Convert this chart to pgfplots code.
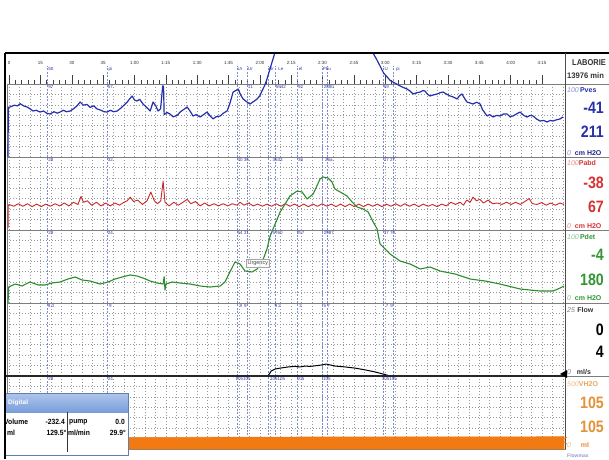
\documentclass[border=0pt]{standalone}
\usepackage{pgfplots}
\pgfplotsset{compat=1.18}
\usepackage{fontspec}
\setmainfont{Liberation Sans}
\usepackage{graphicx}

\definecolor{pves}{RGB}{38,48,170}
\definecolor{pabd}{RGB}{200,40,40}
\definecolor{pdet}{RGB}{45,140,45}
\definecolor{volc}{RGB}{242,122,18}
\definecolor{volt}{RGB}{228,145,55}
\definecolor{evt}{RGB}{125,140,205}
\definecolor{evtxt}{RGB}{50,60,170}
\definecolor{sep}{RGB}{125,125,125}
\definecolor{gridc}{RGB}{150,150,158}
\definecolor{lblred}{RGB}{215,50,50}
\definecolor{lblgreen}{RGB}{50,150,50}
\definecolor{hdrtop}{RGB}{175,198,235}
\definecolor{hdrbot}{RGB}{120,158,218}

\newcommand\tinyf{\fontsize{4.5}{5}\selectfont}
\newcommand\bignum[1]{\scalebox{0.86}[1]{\fontsize{16.5}{17}\selectfont\bfseries #1}}
\newcommand\smallf{\fontsize{7}{8}\selectfont}

\tikzset{evl/.style={font=\tinyf, text=evtxt, anchor=north, inner sep=0.5pt}}

\pgfplotsset{
  panel/.style={
    scale only axis, width=558pt, height=73pt, anchor=south west,
    xmin=-1, xmax=266,
    xtick={0,5,...,265},
    xticklabel=\empty, yticklabel=\empty,
    major tick length=0pt, minor tick length=0pt,
    grid=major,
    major grid style={gridc, dash pattern=on 0.8pt off 2.2pt, line width=0.65pt},
    axis line style={sep, line width=0.9pt},
    extra x ticks={18.2,46.9,109.1,113.9,123.9,127.3,137.8,149.8,152.2,178.9,183.7},
    extra x tick labels={},
    extra x tick style={grid=major, major tick length=0pt, major grid style={evt, dash pattern=on 2pt off 1.5pt, line width=0.6pt}},
    clip=false,
  },
}

\begin{document}
\begin{tikzpicture}[x=1pt,y=1pt]
\path[use as bounding box] (0,0) rectangle (609,459);
\clip (0,0) rectangle (609,459);
\fill[white] (0,0) rectangle (609,459);

% ---------------- time strip
\begin{axis}[scale only axis, width=558pt, height=18pt, at={(7pt,375pt)}, anchor=south west,
  xmin=-1, xmax=266, ymin=0, ymax=1,
  xtick={0,15,...,255},
  xticklabels={0,15,30,45,1:00,1:15,1:30,1:45,2:00,2:15,2:30,2:45,3:00,3:15,3:30,3:45,4:00,4:15},
  minor x tick num=4, ytick=\empty,
  xtick pos=lower, xticklabel pos=upper, tick align=inside,
  major tick length=9pt, minor tick length=4pt,
  tick style={black!75, line width=0.5pt},
  xticklabel style={font=\tinyf, text=black!80, inner sep=1pt},
  separate axis lines, axis line style={draw=none},
  extra x ticks={18.2,46.9,109.1,113.9,123.9,127.3,137.8,149.8,152.2,178.9,183.7},
  extra x tick labels={},
  extra x tick style={grid=major, major tick length=0pt, major grid style={evt, dash pattern=on 2pt off 1.5pt, line width=0.6pt}},
  clip=false]
\addplot[draw=none] coordinates {(0,0)};
\node[evl] at (axis cs:20,0.98) {Stt};
\node[evl] at (axis cs:48.5,0.98) {pi};
\node[evl] at (axis cs:110.5,0.98) {Ur};
\node[evl] at (axis cs:115.5,0.98) {Ur};
\node[evl] at (axis cs:125.5,0.98) {Ur};
\node[evl] at (axis cs:130,0.98) {Le};
\node[evl] at (axis cs:139.5,0.98) {el};
\node[evl] at (axis cs:152,0.98) {Pbu};
\node[evl] at (axis cs:180.5,0.98) {U};
\node[evl] at (axis cs:186,0.98) {pi};
\end{axis}

% ---------------- Pves
\begin{axis}[panel, at={(7pt,302pt)}, ymin=0, ymax=100,
  ytick={14.2857,28.5714,42.8571,57.1429,71.4286,85.7143}]
\addplot[pves, line width=1.2pt, line join=round] coordinates {
(-0.5,0) (-0.4,68) (0.5,68.5) (2.5,71) (4,70) (5.3,73) (7,70) (8.6,68.5) (10,66) (11.5,63)
(13,64) (14.8,61.6) (16.5,63) (18,60) (19.6,58.9) (21.5,62) (23,60) (24.4,61.6) (26,64)
(27.5,62) (29.2,63) (30.8,66) (32.5,70) (34,75.3) (35.5,71) (37.3,72) (38.8,68) (40.5,70)
(42.1,65.8) (44,64) (45.5,62) (46.9,61.6) (48.5,64) (50,62) (51.7,63) (53.5,67) (55,71)
(56.5,75.3) (57.8,80) (58.9,83.6) (60,78) (61.2,76.7) (62.5,79) (64.1,72.6) (65.8,68)
(67.5,63) (68.9,75.3) (70.2,70) (71.3,63) (72.5,66) (73.5,97.3) (73.9,97) (74.2,58)
(75.5,61) (77,58.9) (78.5,55) (80.4,57) (82,62) (83.5,65) (85.2,68.5) (86.8,62) (88,56.2)
(89.5,58) (91.4,54.8) (93,58) (94.7,61.6) (96,57) (97.6,52.1) (99,55) (101,56.2) (102.5,60)
(104.3,63) (105.5,72) (107.2,89) (108.5,91) (109.6,93.2) (110.8,85) (112,79.5) (113.5,76)
(115.3,72.6) (117,76) (118.7,79.5) (120,84) (121,90.4) (122.3,98) (123.4,106.8) (125.3,125)
(127.1,142)};
\addplot[pves, line width=1.2pt, line join=round] coordinates {
(174.2,142) (175.8,134) (177.5,124.7) (179.2,115) (180.9,109.6) (182.3,105) (183.7,102.7)
(185.4,100) (187.1,97.3) (188.8,95) (190.4,93.2) (192,90) (193.3,86.3) (195,88) (196.7,89)
(198,91) (199,90.4) (200.2,86) (201.4,83.6) (203,85) (204.8,86.3) (206.2,88) (207.7,89)
(209.4,86) (211,83.6) (212.7,82) (214.4,79.5) (215.5,84) (216.7,86.3) (218,80) (219.1,75.3)
(220.5,74) (222,72.6) (223.7,75) (225.4,72.6) (226.5,65) (228.7,56.2) (230,58) (231.6,54.8)
(233.2,57) (234.9,56.2) (236.6,59) (238.3,58.9) (239.7,55) (241.1,56.2) (242.8,59) (244.5,61.6)
(246.2,57) (247.8,54.8) (249.3,57) (250.7,56.2) (252.4,52) (254.1,49.3) (255.8,50) (257.4,48)
(258.9,50) (260.3,49.3) (262,51) (263.6,52.1) (265,54.8)};
\node[evl] at (axis cs:20,99) {97};
\node[evl] at (axis cs:48.5,99) {57};
\node[evl] at (axis cs:115.5,99) {71};
\node[evl] at (axis cs:130,99) {5942};
\node[evl] at (axis cs:139.5,99) {92};
\node[evl] at (axis cs:153,99) {2880};
\node[evl] at (axis cs:180.5,99) {59};
\end{axis}

% ---------------- Pabd
\begin{axis}[panel, at={(7pt,229pt)}, ymin=0, ymax=100,
  ytick={14.2857,28.5714,42.8571,57.1429,71.4286,85.7143}]
\addplot[pabd, line width=0.9pt, line join=round] coordinates {
(-0.5,3) (-0.4,33) (0.0,35) (2.2,32.5) (4.4,36) (6.6,32.5) (8.8,36) (11.0,32) (13.2,35.5)
(15.4,32) (17.6,35.5) (19.8,32.5) (22.0,36) (24.2,33) (26.4,37) (28.6,33) (30.8,38) (33.0,35)
(34.4,46) (35.6,38) (37.4,40) (39.6,34) (41.8,38) (44.0,33) (46.2,37) (48.4,33) (50.6,37)
(52.8,34) (55.0,38) (56.5,40) (58.0,45) (59.5,39) (61.6,41) (63.8,35) (66.0,40) (67.8,52)
(69.5,40) (71.0,36) (72.6,40) (73.7,67) (74.6,38) (76.6,33) (78.8,38) (81.0,34) (83.2,38)
(85.2,42) (87.0,36) (89.2,39) (91.4,33) (93.6,37) (95.8,33) (98.0,36) (100.2,33) (102.4,36)
(104.6,33) (106.8,36) (109.0,34) (110.5,38) (112.4,34) (114.6,37) (116.8,33) (119.0,35.5)
(121.2,32.5) (123.4,35.5) (125.6,32.5) (127.8,36) (130.0,32.5) (132.2,36) (134.4,32.5)
(136.6,35.5) (138.8,32) (141.0,35.5) (143.2,32) (145.4,35.5) (147.6,32.5) (149.8,36)
(152.0,32.5) (154.2,35.5) (156.4,32) (158.6,35.5) (160.8,32) (163.0,35.5) (165.2,32)
(167.4,35.5) (169.6,32) (171.8,35.5) (174.0,32.5) (176.2,35.5) (178.4,32) (180.6,35.5)
(182.8,32.5) (185.0,36) (187.2,32.5) (189.4,36) (191.6,32.5) (193.8,35.5) (196.0,32)
(198.2,35.5) (200.4,32.5) (202.6,35) (204.8,32) (207.0,35.5) (209.2,33) (211.4,38) (213.6,35)
(215.8,38) (217.4,34) (219.0,41) (220.6,38) (222.0,45) (223.6,40) (225.2,42) (227.0,37)
(229.2,41) (231.4,36) (233.6,37) (235.8,35) (238.0,38) (240.2,35) (242.4,38) (244.6,35)
(246.8,39) (248.8,43) (250.4,36) (252.6,35) (254.8,37.5) (257.0,34) (259.2,37) (261.4,34)
(263.6,37) (265.5,35)};
\node[evl] at (axis cs:20,99) {28};
\node[evl] at (axis cs:48.5,99) {32};
\node[evl] at (axis cs:112,99) {40 36};
\node[evl] at (axis cs:128.5,99) {3633};
\node[evl] at (axis cs:139.5,99) {36};
\node[evl] at (axis cs:153,99) {26a};
\node[evl] at (axis cs:182,99) {27 27};
\end{axis}

% ---------------- Pdet
\begin{axis}[panel, at={(7pt,156pt)}, ymin=0, ymax=100,
  ytick={14.2857,28.5714,42.8571,57.1429,71.4286,85.7143}]
\addplot[pdet, line width=1.1pt, line join=round] coordinates {
(-0.5,0) (-0.2,21.9) (2.9,26) (6.2,23.3) (10.0,28.8) (13.9,24.7) (17.2,24.7) (20.6,27.4)
(24.4,28.8) (28.2,32.9) (31.6,35.6) (34.9,31.5) (38.8,30.1) (43.5,26) (47.4,28.8) (50.7,32.9)
(54.1,35.6) (57.9,38.4) (61.2,37) (64.1,34.2) (67.5,30.1) (70.8,27.4) (73.7,26) (74.2,36)
(74.6,17.8) (75.1,26) (78,28.8) (81.8,27.4) (86.6,26) (91.4,23.3) (96.2,21.9) (101,23.3)
(103.3,28.8) (105.7,42.5) (108.1,56.2) (110.5,53.4) (112.9,43.8) (116.3,42.5) (118.7,46.6)
(121.1,56.2) (123.4,74) (124.9,91.8) (126.3,101.4) (129.7,124.7) (134.4,146.6) (137.8,153.4)
(140.2,152.1) (142.6,142.5) (145.5,149.3) (148.8,169.9) (150.2,172.6) (152.6,171.2)
(154.5,165.8) (155.9,156.2) (158.4,152.1) (161.7,146.6) (164.1,138.4) (166.5,131.5)
(169.4,128.8) (171.8,124.7) (174.2,111) (176.1,101.4) (177.5,80.8) (179.9,74) (182.3,67.1)
(187.1,57.5) (191.9,53.4) (196.7,46.6) (201.4,49.3) (206.2,43.8) (213.4,39.7) (220.6,32.9)
(227.8,30.1) (234.9,26) (244.5,19.2) (254.1,16.4) (260.3,16.4) (263.6,20.5) (265.5,23.3)};
\node[draw=gray!70, fill=white, fill opacity=0.85, text opacity=1, font=\fontsize{5.5}{6}\selectfont, text=black!70, inner sep=1.6pt]
  at (axis cs:119,54) {Urgency};
\node[evl] at (axis cs:20,99) {28};
\node[evl] at (axis cs:48.5,99) {24};
\node[evl] at (axis cs:112,99) {54 31};
\node[evl] at (axis cs:128.5,99) {5760};
\node[evl] at (axis cs:139.5,99) {257};
\node[evl] at (axis cs:153,99) {2987};
\node[evl] at (axis cs:182,99) {37 70};
\end{axis}

% ---------------- Flow
\begin{axis}[panel, at={(7pt,83pt)}, ymin=0, ymax=25,
  ytick={3.5714,7.1429,10.7143,14.2857,17.8571,21.4286}]
\addplot[black, line width=1pt, line join=round] coordinates {
(123.9,0) (125.4,1.7) (127.3,2.4) (129.7,2.7) (133.5,3.1) (136.8,3.3) (139.2,3.1) (141.6,3.4)
(144.0,3.3) (147.8,3.6) (149.8,3.8) (151.7,4.1) (153.6,3.8) (156.0,3.4) (160.8,3.1) (165.6,2.7)
(170.3,2.1) (175.1,1.4) (179.9,0.5) (182.3,0)};
\node[evl] at (axis cs:20,24.7) {9.0};
\node[evl] at (axis cs:48.5,24.7) {9};
\node[evl] at (axis cs:112,24.7) {9 \,9};
\node[evl] at (axis cs:128.5,24.7) {9 2};
\node[evl] at (axis cs:139.5,24.7) {2};
\node[evl] at (axis cs:152,24.7) {5 7};
\node[evl] at (axis cs:182,24.7) {7 \,9};
\end{axis}

% ---------------- Volume
\begin{axis}[panel, at={(7pt,10pt)}, ymin=0, ymax=500,
  ytick={71.43,142.86,214.29,285.71,357.14,428.57}]
\addplot[fill=volc, draw=volc, line width=0.6pt] coordinates {
(-0.5,78) (20,79) (50,80) (80,80) (110,81) (140,82) (170,82) (200,83) (230,83) (265.5,84)} \closedcycle;
\node[evl] at (axis cs:20,496) {28};
\node[evl] at (axis cs:48.5,496) {24};
\node[evl] at (axis cs:112,496) {105105};
\node[evl] at (axis cs:128.5,496) {105105};
\node[evl] at (axis cs:139.5,496) {105};
\node[evl] at (axis cs:152,496) {105};
\node[evl] at (axis cs:182,496) {105105};
\end{axis}

% ---------------- frame lines
\draw[black, line width=1.3pt] (5,406) -- (609,406);
\draw[sep, line width=0.9pt] (565,375) -- (609,375);
\draw[sep, line width=0.9pt] (565,302) -- (609,302);
\draw[sep, line width=0.9pt] (565,229) -- (609,229);
\draw[sep, line width=0.9pt] (565,156) -- (609,156);
\draw[black!85, line width=2.2pt] (5,83) -- (565,83);
\draw[sep, line width=0.7pt] (565,83) -- (609,83);
\draw[black!70, line width=0.9pt] (565,406) -- (565,10);
\fill[black] (560,85) -- (567,89) -- (567,81) -- cycle;
\draw[volc, line width=0.7pt] (567,22) -- (562,18.5) -- (567,15);

% ---------------- right column
\node[anchor=west, font=\fontsize{8.5}{9}\selectfont\bfseries, text=black!80, inner sep=0pt] at (572,396) {\scalebox{0.88}[1]{LABORIE}};
\node[anchor=west, font=\fontsize{8}{9}\selectfont\bfseries, text=black!80, inner sep=0pt] at (567,383) {\scalebox{0.95}[1]{13976 min}};

\node[anchor=west, font=\smallf, inner sep=1pt] at (566,369) {{\itshape\color{pves!55}100}\,{\bfseries\color{pves}Pves}};
\node[anchor=east, text=pves, inner sep=0pt] at (604,351) {\bignum{-41}};
\node[anchor=east, text=pves, inner sep=0pt] at (604,327) {\bignum{211}};
\node[anchor=west, font=\smallf, inner sep=1pt] at (566,306) {{\itshape\color{pves!55}0}\;\;{\bfseries\color{pves!80!black}cm H2O}};

\node[anchor=west, font=\smallf, inner sep=1pt] at (566,296) {{\itshape\color{lblred!55}100}{\bfseries\color{lblred}Pabd}};
\node[anchor=east, text=lblred, inner sep=0pt] at (604,276) {\bignum{-38}};
\node[anchor=east, text=lblred, inner sep=0pt] at (604,252) {\bignum{67}};
\node[anchor=west, font=\smallf, inner sep=1pt] at (566,233) {{\itshape\color{lblred!55}0}\;\;{\bfseries\color{lblred}cm H2O}};

\node[anchor=west, font=\smallf, inner sep=1pt] at (566,222) {{\itshape\color{lblgreen!55}100}\,{\bfseries\color{lblgreen}Pdet}};
\node[anchor=east, text=lblgreen, inner sep=0pt] at (604,204) {\bignum{-4}};
\node[anchor=east, text=lblgreen, inner sep=0pt] at (604,179) {\bignum{180}};
\node[anchor=west, font=\smallf, inner sep=1pt] at (566,161) {{\itshape\color{lblgreen!55}0}\;\;{\bfseries\color{lblgreen}cm H2O}};

\node[anchor=west, font=\smallf, inner sep=1pt] at (566,149) {{\itshape\color{black!50}25}\,\,{\bfseries\color{black!80}Flow}};
\node[anchor=east, text=black, inner sep=0pt] at (604,129) {\bignum{0}};
\node[anchor=east, text=black, inner sep=0pt] at (604,107) {\bignum{4}};
\node[anchor=west, font=\smallf, inner sep=1pt] at (566,87) {{\itshape\color{black!50}0}\;\;\;{\bfseries\color{black!80}ml/s}};

\node[anchor=west, font=\smallf, inner sep=1pt] at (566,75) {{\itshape\color{volt!60}500}{\bfseries\color{volt!80}VH2O}};
\node[anchor=east, text=volt, inner sep=0pt] at (604,56) {\bignum{105}};
\node[anchor=east, text=volt, inner sep=0pt] at (604,32) {\bignum{105}};
\node[anchor=west, font=\smallf, inner sep=1pt] at (566,14) {{\itshape\color{volt!60}0}\;\;\;\;\;{\bfseries\color{volt}ml}};
\node[anchor=south west, font=\fontsize{5}{5}\selectfont\bfseries, text=pves!50, inner sep=0pt] at (567,1) {Flowmax};

% ---------------- Digital box
\fill[white] (5,4) rectangle (128,66);
\shade[top color=hdrtop, bottom color=hdrbot] (5,47) rectangle (128,66);
\draw[hdrbot!80!black, line width=0.7pt] (5,4) rectangle (128,66);
\node[anchor=west, font=\fontsize{6.5}{7}\selectfont\bfseries, text=white, inner sep=0pt] at (8,56) {Digital};
\draw[black!80, line width=0.6pt] (67,7) -- (67,47);
\node[anchor=west, font=\fontsize{7.5}{8}\selectfont\bfseries, inner sep=0pt] at (4,37) {\scalebox{0.9}[1]{Volume}};
\node[anchor=east, font=\fontsize{7.5}{8}\selectfont\bfseries, inner sep=0pt] at (65,37) {\scalebox{0.9}[1]{-232.4}};
\node[anchor=west, font=\fontsize{7.5}{8}\selectfont\bfseries, inner sep=0pt] at (69,37) {\scalebox{0.9}[1]{pump}};
\node[anchor=east, font=\fontsize{7.5}{8}\selectfont\bfseries, inner sep=0pt] at (125,37) {\scalebox{0.9}[1]{0.0}};
\node[anchor=west, font=\fontsize{7.5}{8}\selectfont\bfseries, inner sep=0pt] at (7,26) {\scalebox{0.9}[1]{ml}};
\node[anchor=east, font=\fontsize{7.5}{8}\selectfont\bfseries, inner sep=0pt] at (66.5,26) {\scalebox{0.9}[1]{129.5°}};
\node[anchor=west, font=\fontsize{7.5}{8}\selectfont\bfseries, inner sep=0pt] at (68,26) {\scalebox{0.9}[1]{ml/min}};
\node[anchor=east, font=\fontsize{7.5}{8}\selectfont\bfseries, inner sep=0pt] at (126,26) {\scalebox{0.9}[1]{29.9°}};

% left border
\draw[black, line width=1.6pt] (5,406) -- (5,0);
\end{tikzpicture}
\end{document}
